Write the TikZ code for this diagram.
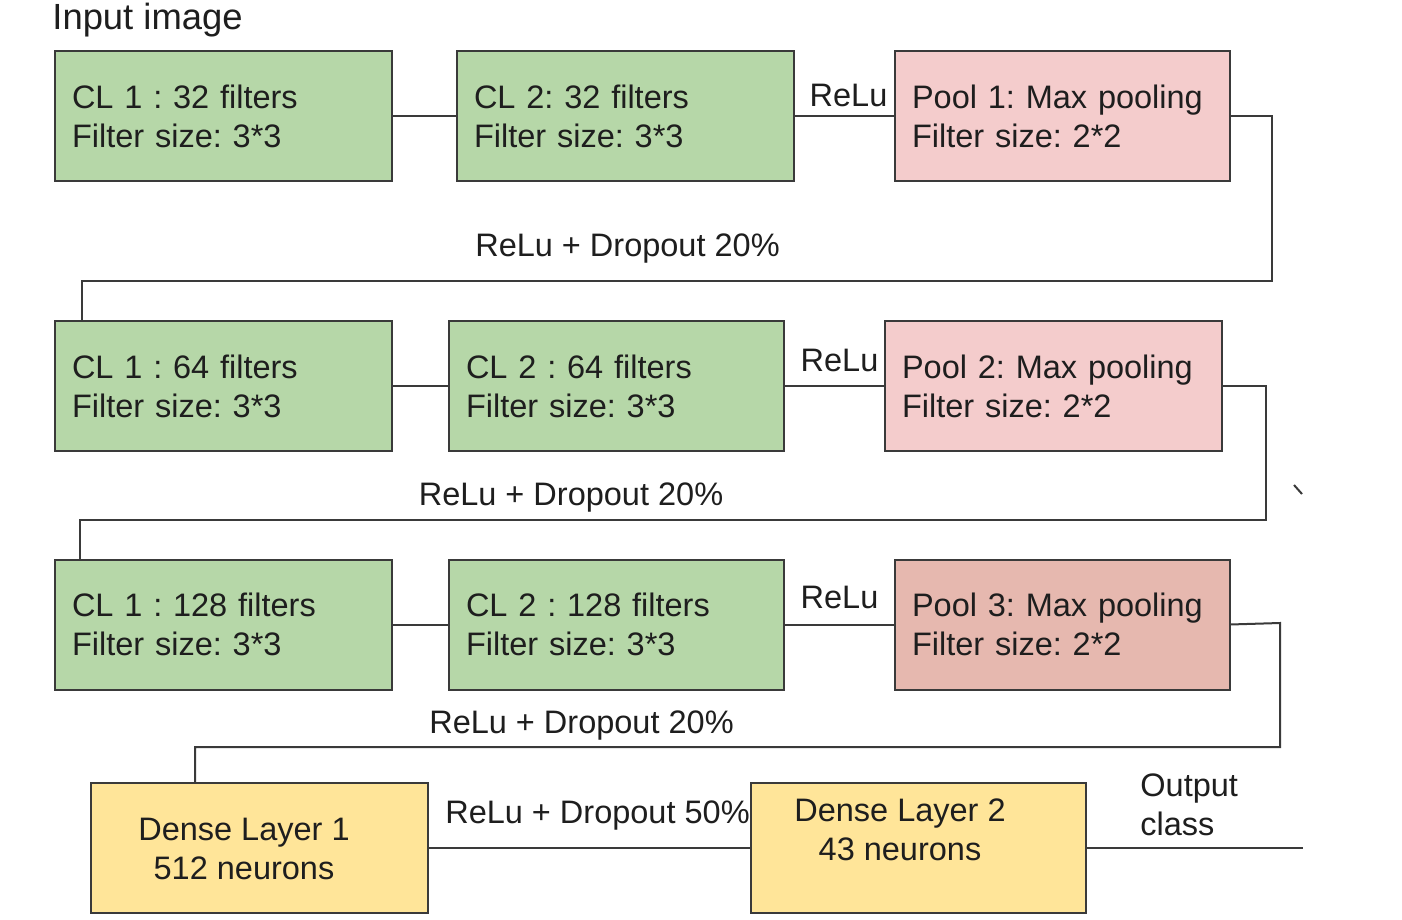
\documentclass[tikz,border=0pt]{standalone}
\usepackage{fontspec}
\setmainfont{Liberation Sans}
\frenchspacing
\definecolor{gfill}{HTML}{B6D7A8}
\definecolor{pfill}{HTML}{F4CCCC}
\definecolor{pdark}{HTML}{E6B8AF}
\definecolor{yfill}{HTML}{FFE599}
\definecolor{edgec}{HTML}{3A3A3A}
\definecolor{txt}{HTML}{1E1E1E}
\begin{document}
\begin{tikzpicture}[x=0.5pt,y=-0.5pt,
  blk/.style={draw=edgec, line width=1pt, minimum height=65pt, inner xsep=8.5pt, inner ysep=0pt,
    align=left, font=\fontsize{16.25}{19.5}\selectfont, text=txt, outer sep=0pt},
  wA/.style={text width=151.5pt},
  wB/.style={text width=150.5pt},
  conn/.style={draw=edgec, line width=1pt},
  lbl/.style={font=\fontsize{16.25}{19.5}\selectfont, text=txt, inner sep=0pt},
]
\useasboundingbox[fill=white] (0,0) rectangle (1402,920);

% title
\node[lbl, anchor=base west, font=\fontsize{18.2}{22}\selectfont] (title) at (52,30) {Input image};

% row 1
\node[blk, wA, fill=gfill] (c1a) at (223.5,116) {CL 1 : 32 filters\\Filter size: 3*3};
\node[blk, wA, fill=gfill] (c2a) at (625.5,116) {CL 2: 32 filters\\Filter size: 3*3};
\node[blk, wB, fill=pfill] (p1) at (1062.5,116) {Pool 1: Max pooling\\Filter size: 2*2};

% row 2
\node[blk, wA, fill=gfill] (c1b) at (223.5,386) {CL 1 : 64 filters\\Filter size: 3*3};
\node[blk, wB, fill=gfill] (c2b) at (616.5,386) {CL 2 : 64 filters\\Filter size: 3*3};
\node[blk, wA, fill=pfill] (p2) at (1053.5,386) {Pool 2: Max pooling\\Filter size: 2*2};

% row 3
\node[blk, wA, fill=gfill] (c1c) at (223.5,624.5) {CL 1 : 128 filters\\Filter size: 3*3};
\node[blk, wB, fill=gfill] (c2c) at (616.5,624.5) {CL 2 : 128 filters\\Filter size: 3*3};
\node[blk, wB, fill=pdark] (p3) at (1062.5,624.5) {Pool 3: Max pooling\\Filter size: 2*2};

% row 4
\node[blk, wA, fill=yfill] (d1) at (259.5,848) {};
\node[blk, wB, fill=yfill] (d2) at (918.5,848) {};
\node[lbl, align=center] (d1t) at (244,849) {Dense Layer 1\\512 neurons};
\node[lbl, align=center] (d2t) at (900,829.5) {Dense Layer 2\\43 neurons};

% labels
\node[lbl, anchor=base] (r1) at (848.5,106) {ReLu};
\node[lbl, anchor=base] (r2) at (839.5,371) {ReLu};
\node[lbl, anchor=base] (r3) at (839.5,608) {ReLu};
\node[lbl, anchor=base] (rd1) at (627.5,256) {ReLu + Dropout 20\%};
\node[lbl, anchor=base] (rd2) at (571,505) {ReLu + Dropout 20\%};
\node[lbl, anchor=base] (rd3) at (581.5,733) {ReLu + Dropout 20\%};
\node[lbl, anchor=base] (rd4) at (597.5,823) {ReLu + Dropout 50\%};
\node[lbl, align=left, anchor=west] (outc) at (1140,805) {Output\\class};

% coordinates for bends
\coordinate (k1a) at (1272,116);
\coordinate (k1b) at (1272,281);
\coordinate (k1c) at (82,281);
\coordinate (k2a) at (1266,386);
\coordinate (k2b) at (1266,520);
\coordinate (k2c) at (80,520);
\coordinate (k3a) at (1280,623);
\coordinate (k3b) at (1280,747);
\coordinate (k3c) at (195,747);
\coordinate (oute) at (1303,848);

% connectors
\draw[conn] (c1a.east) -- (c2a.west);
\draw[conn] (c2a.east) -- (p1.west);
\draw[conn] (p1.east) -- (k1a) -- (k1b) -- (k1c) -- (c1b.north -| k1c);
\draw[conn] (c1b.east) -- (c2b.west);
\draw[conn] (c2b.east) -- (p2.west);
\draw[conn] (p2.east) -- (k2a) -- (k2b) -- (k2c) -- (c1c.north -| k2c);
\draw[conn] (c1c.east) -- (c2c.west);
\draw[conn] (c2c.east) -- (p3.west);
\draw[conn] (p3.east) -- (k3a) -- (k3b) -- (k3c) -- (d1.north -| k3c);
\draw[conn] (d1.east) -- (d2.west);
\draw[conn] (d2.east) -- (oute);

% stray tick mark
\draw[conn] (1294,485) -- (1302,494);
\end{tikzpicture}
\end{document}
